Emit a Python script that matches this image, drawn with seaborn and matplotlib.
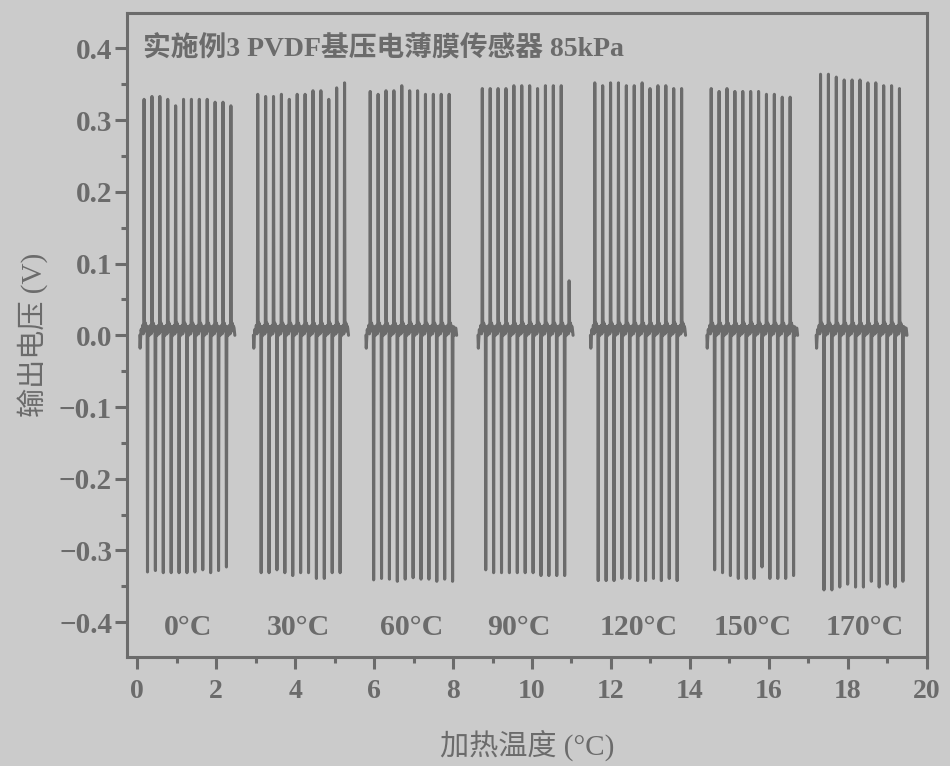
import matplotlib
matplotlib.use("Agg")
import matplotlib.pyplot as plt
from matplotlib.ticker import MultipleLocator
import numpy as np
import pandas as pd
import seaborn as sns

# 各加热温度的标签与每组第一个脉冲的时间
temps = ["0°C", "30°C", "60°C", "90°C", "120°C", "150°C", "170°C"]
starts = [0.17, 3.05, 5.90, 8.74, 11.59, 14.54, 17.31]
label_x = [1.29, 4.07, 6.95, 9.66, 12.69, 15.59, 18.44]
period = 0.2

# 每组的正峰值 (V)
peaks = [
    [0.329, 0.333, 0.333, 0.329, 0.320, 0.329, 0.329, 0.329, 0.329, 0.325, 0.325, 0.320],
    [0.336, 0.333, 0.333, 0.336, 0.329, 0.336, 0.336, 0.341, 0.341, 0.329, 0.345, 0.352],
    [0.340, 0.336, 0.341, 0.341, 0.348, 0.341, 0.341, 0.336, 0.336, 0.336, 0.336],
    [0.344, 0.344, 0.344, 0.344, 0.348, 0.348, 0.348, 0.344, 0.348, 0.348, 0.348, 0.076],
    [0.352, 0.348, 0.352, 0.352, 0.348, 0.348, 0.352, 0.344, 0.348, 0.348, 0.344, 0.344],
    [0.344, 0.340, 0.344, 0.340, 0.340, 0.340, 0.340, 0.336, 0.336, 0.332, 0.332],
    [0.364, 0.364, 0.360, 0.356, 0.356, 0.356, 0.352, 0.352, 0.348, 0.348, 0.344],
]
# 每组的负峰值 (V)
troughs = [
    [-0.330, -0.328, -0.331, -0.331, -0.331, -0.331, -0.330, -0.327, -0.331, -0.328, -0.323],
    [-0.331, -0.331, -0.327, -0.331, -0.335, -0.331, -0.331, -0.339, -0.339, -0.331, -0.331],
    [-0.341, -0.339, -0.340, -0.343, -0.340, -0.338, -0.340, -0.340, -0.343, -0.340, -0.343],
    [-0.327, -0.331, -0.331, -0.331, -0.331, -0.331, -0.331, -0.335, -0.335, -0.335, -0.335],
    [-0.342, -0.342, -0.342, -0.339, -0.339, -0.342, -0.342, -0.339, -0.342, -0.339, -0.342],
    [-0.327, -0.331, -0.335, -0.339, -0.339, -0.339, -0.323, -0.339, -0.339, -0.339, -0.335],
    [-0.355, -0.355, -0.351, -0.347, -0.351, -0.351, -0.343, -0.351, -0.347, -0.351, -0.343],
]

# 单个脉冲的波形 (相对峰值时刻)
lead_dt = [-0.11, -0.10, -0.09, -0.075, -0.06]
lead_v = [0.0, -0.018, -0.006, 0.008, 0.004]
up_dt = [-0.035, -0.02, -0.008, 0.0, 0.010, 0.022, 0.035, 0.05, 0.065]
up_v = [0.014, 0.002, 0.006, None, 0.022, 0.008, 0.017, 0.006, 0.013]
down_dt = [0.078, 0.087, 0.097, 0.112, 0.13, 0.15]
down_v = [0.004, None, -0.004, 0.012, 0.000, 0.010]
tail_dt = [0.08, 0.10]
tail_v = [0.010, 0.0]

rows = []
for g, (t0, pk, tr) in enumerate(zip(starts, peaks, troughs)):
    for dt, v in zip(lead_dt, lead_v):
        rows.append((g, t0 + dt, v))
    for k, p in enumerate(pk):
        t = t0 + k * period
        for dt, v in zip(up_dt, up_v):
            rows.append((g, t + dt, p if v is None else v))
        if k < len(tr):
            for dt, v in zip(down_dt, down_v):
                rows.append((g, t + dt, tr[k] if v is None else v))
        else:
            for dt, v in zip(tail_dt, tail_v):
                rows.append((g, t + dt, v))
    last = t0 + (len(pk) - 1) * period
    if len(tr) == len(pk):
        for dt, v in zip(tail_dt, tail_v):
            rows.append((g, last + dt + 0.09, v))

df = pd.DataFrame(rows, columns=["group", "t", "v"])

bg = "#cbcbcb"
ink = "#6b6b6b"

sns.set_theme(style="ticks")
plt.rcParams["font.family"] = ["Liberation Serif", "Noto Sans CJK SC"]
plt.rcParams["axes.unicode_minus"] = True

fig = plt.figure(figsize=(9.5, 7.66), dpi=100, facecolor=bg)
ax = fig.add_axes([126.7 / 950, 1 - 657.3 / 766, 800 / 950, 644 / 766])
ax.set_facecolor(bg)

sns.lineplot(data=df, x="t", y="v", units="group", estimator=None, sort=False,
             color=ink, linewidth=2.2, ax=ax, legend=False)

ax.set_xlim(-0.27, 20)
ax.set_ylim(-0.449, 0.449)
ax.xaxis.set_major_locator(MultipleLocator(2))
ax.xaxis.set_minor_locator(MultipleLocator(1))
ax.yaxis.set_major_locator(MultipleLocator(0.1))
ax.yaxis.set_minor_locator(MultipleLocator(0.05))
ax.yaxis.set_major_formatter(matplotlib.ticker.FuncFormatter(
    lambda v, pos: f"{v:.1f}".replace("-", "\u2212") if abs(v) > 1e-9 else "0.0"))

for s in ax.spines.values():
    s.set_color(ink)
    s.set_linewidth(2.2)
ax.tick_params(which="major", direction="out", length=8.5, width=2.2, color=ink,
               labelcolor=ink, labelsize=20, top=False, right=False)
ax.tick_params(which="minor", direction="out", length=4.5, width=2.2, color=ink,
               top=False, right=False)
ax.tick_params(axis="x", which="major", pad=7)
ax.tick_params(axis="y", which="major", pad=2, labelsize=21)
for lab in ax.get_xticklabels() + ax.get_yticklabels():
    lab.set_fontweight("bold")

ax.set_xlabel("加热温度 (°C)", fontsize=21, color=ink)
ax.set_ylabel("输出电压 (V)", fontsize=21, color=ink)
ax.xaxis.set_label_coords(0.5, -0.136)
ax.xaxis.label.set_verticalalignment("center")
ax.yaxis.set_label_coords(-0.118, 0.5)
ax.yaxis.label.set_verticalalignment("center")

ax.text(0.020, 0.9446, "实施例3 PVDF基压电薄膜传感器 85kPa", transform=ax.transAxes,
        fontsize=20, fontweight="bold", color=ink, ha="left", va="center")
for x, t in zip(label_x, temps):
    ax.text(x, -0.408, t, fontsize=21.5, fontweight="bold", color=ink,
            ha="center", va="center")

fig.savefig("out.png", dpi=100, facecolor=bg)
